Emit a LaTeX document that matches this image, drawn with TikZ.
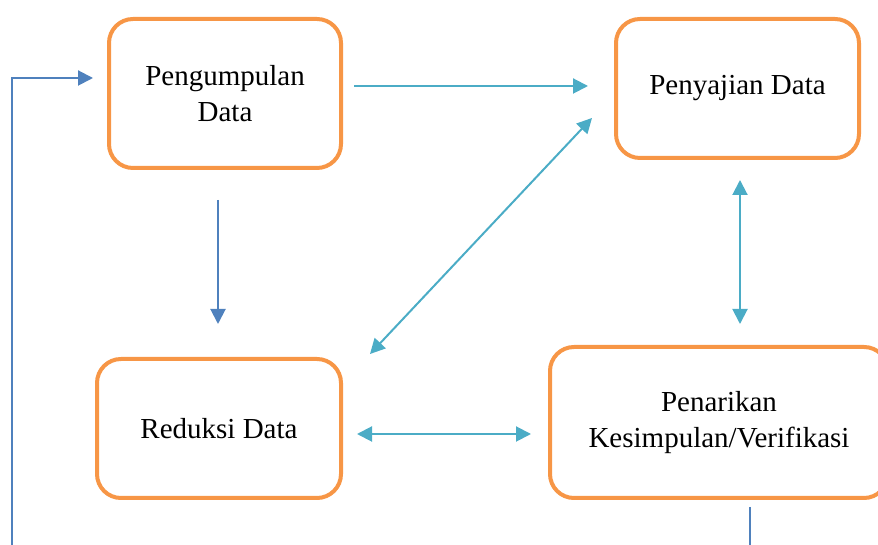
\documentclass[tikz,border=0pt]{standalone}
\usepackage{fontspec}
\setmainfont{Liberation Serif}
\usetikzlibrary{arrows.meta,positioning}
\definecolor{stageorange}{HTML}{F79646}
\definecolor{flowteal}{HTML}{4BACC6}
\definecolor{flowblue}{HTML}{4F81BD}

\begin{document}
\begin{tikzpicture}[x=1pt, y=1pt,
    stage/.style={rectangle, rounded corners=24pt, draw=stageorange, line width=4pt, align=center, inner sep=0pt, font=\fontsize{29}{36}\selectfont},
    flow/.style={draw=flowteal, line width=2pt, -{Triangle[length=15pt,width=15pt]}},
    flowboth/.style={draw=flowteal, line width=2pt, {Triangle[length=15pt,width=15pt]}-{Triangle[length=15pt,width=15pt]}},
    back/.style={draw=flowblue, line width=2pt, -{Triangle[length=15pt,width=15pt]}},
    backline/.style={draw=flowblue, line width=2pt}
]
\useasboundingbox (0,0) rectangle (878,545);
\node[stage, minimum width=232pt, minimum height=149pt] (peng) at (225,451.5) {Pengumpulan\\Data};
\node[stage, minimum width=243pt, minimum height=139pt] (saji) at (737.5,456.5) {Penyajian Data};
\node[stage, minimum width=244pt, minimum height=139pt] (reduksi) at (219,116.5) {Reduksi Data};
\node[stage, minimum width=338pt, minimum height=151pt] (tarik) at (719,122.5) {Penarikan\\Kesimpulan/Verifikasi};
\coordinate (backstart) at (12,0);
\coordinate (tarikend) at (750,0);
% connectors
\draw[flow] ([shift={(11,7.5)}]peng.east) -- ([shift={(-26,2.5)}]saji.west);
\draw[back] ([shift={(-7,-30)}]peng.south) -- ([shift={(-1,33)}]reduksi.north);
\draw[flowboth] ([shift={(27,3)}]reduksi.north east) -- ([shift={(-22,42)}]saji.south west);
\draw[flowboth] ([shift={(2.5,-20)}]saji.south) -- ([shift={(21,21)}]tarik.north);
\draw[flowboth] ([shift={(14,-5.5)}]reduksi.east) -- ([shift={(-17,-11.5)}]tarik.west);
\draw[back] (backstart) |- ([shift={(-14,15.5)}]peng.west);
\draw[backline] ([shift={(31,-7)}]tarik.south) -- (tarikend);
\end{tikzpicture}
\end{document}
